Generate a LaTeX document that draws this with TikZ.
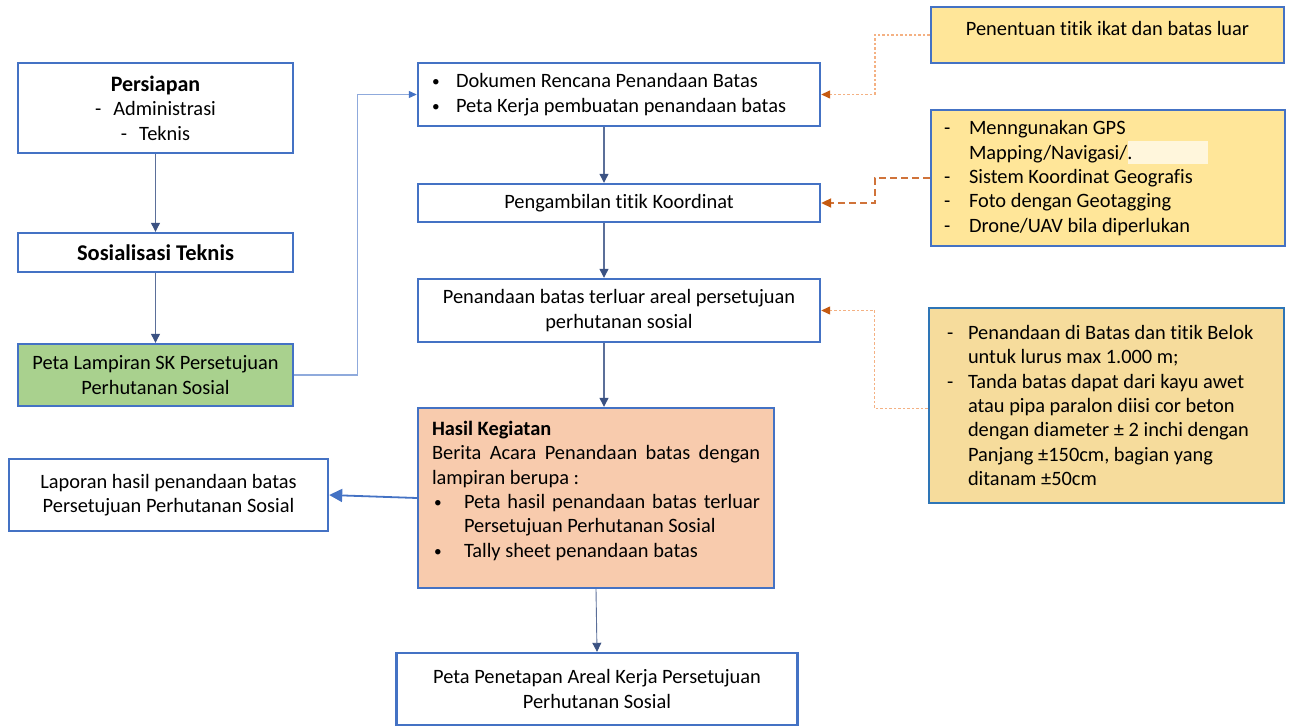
\documentclass[tikz,border=0pt]{standalone}
\usepackage{fontspec}
\setmainfont{Carlito}[Ligatures=CommonOff]
\usetikzlibrary{arrows.meta}
\definecolor{bborder}{HTML}{4472C4}
\definecolor{tborder}{HTML}{2E75B6}
\definecolor{darrow}{HTML}{3B5283}
\definecolor{darrowline}{HTML}{5B6F99}
\definecolor{lblue}{HTML}{8FAADC}
\definecolor{ygold}{HTML}{FFE699}
\definecolor{ylight}{HTML}{FFF6DC}
\definecolor{boxtan}{HTML}{F6DC9C}
\definecolor{gfill}{HTML}{A9D18E}
\definecolor{ofill}{HTML}{F8CBAD}
\definecolor{odark}{HTML}{C55A11}
\definecolor{odash}{HTML}{D0733A}
\definecolor{olight}{HTML}{F4B183}
\newcommand{\smbul}{\raisebox{1pt}{\scalebox{0.75}{\textbullet}}}
\begin{document}
\begin{tikzpicture}[x=1pt,y=-1pt,
  box/.style={draw=bborder, line width=2.4pt, fill=white, inner sep=0pt,
    font=\fontsize{20.4}{24.4}\selectfont, align=center},
  darr/.style={draw=darrowline, line width=1.2pt, -{Triangle[length=9pt,width=9pt,color=darrow]}},
  blarr/.style={draw=lblue, line width=1.1pt, -{Triangle[length=8pt,width=7pt,color=bborder]}},
  laparr/.style={draw=bborder, line width=1.8pt, -{Triangle[length=13pt,width=13pt]}},
  odot/.style={draw=olight, line width=1.4pt, dash pattern=on 2.5pt off 2pt, -{Triangle[length=9pt,width=8pt,color=odark]}},
  odsh/.style={draw=odash, line width=2pt, dash pattern=on 7pt off 4pt, -{Triangle[length=10pt,width=9pt,color=odark]}}
]
\useasboundingbox (0,0) rectangle (1296,727);

% left column
\node[box, minimum width=275pt, minimum height=90pt] (pers) at (155.5,108)
  {{\fontsize{22}{25}\selectfont\bfseries Persiapan}\\
   -\hspace{12pt}Administrasi\\ -\hspace{12pt}Teknis};
\node[box, minimum width=275pt, minimum height=39pt] (sos) at (155.5,252.5)
  {\fontsize{22.5}{25}\selectfont\bfseries Sosialisasi Teknis};
\node[box, fill=gfill, minimum width=275pt, minimum height=62pt] (lamp) at (155.5,375)
  {Peta Lampiran SK Persetujuan\\Perhutanan Sosial};

% middle column
\node[box, minimum width=402pt, minimum height=63pt, text width=374pt, align=flush left, inner xsep=14pt] (dok) at (619,94.5)
  {\makebox[24pt][l]{\smbul}Dokumen Rencana Penandaan Batas\\
   \makebox[24pt][l]{\smbul}Peta Kerja pembuatan penandaan batas};
\node[box, minimum width=402pt, minimum height=38pt] (peng) at (619,203)
  {Pengambilan titik Koordinat};
\node[box, minimum width=402pt, minimum height=63pt] (pen) at (619,310.5)
  {Penandaan batas terluar areal persetujuan\\perhutanan sosial};
\node[box, fill=ofill, minimum width=356pt, minimum height=180pt, align=flush left] (hasil) at (596,498)
  {\parbox[c][180pt][t]{328pt}{\fontsize{20.4}{24.4}\selectfont\vspace*{13pt}%
   {\bfseries Hasil Kegiatan}\\
   \makebox[328pt][s]{Berita Acara Penandaan batas dengan}\\
   lampiran berupa :\\
   \makebox[32pt][l]{\hspace{2pt}\smbul}\makebox[296pt][s]{Peta hasil penandaan batas terluar}\\
   \hspace*{32pt}Persetujuan Perhutanan Sosial\\
   \makebox[32pt][l]{\hspace{2pt}\smbul}Tally sheet penandaan batas}};
\node[box, minimum width=319pt, minimum height=72pt] (lap) at (168.5,495)
  {Laporan hasil penandaan batas\\Persetujuan Perhutanan Sosial};
\node[box, minimum width=401pt, minimum height=72pt] (penet) at (597,689)
  {Peta Penetapan Areal Kerja Persetujuan\\Perhutanan Sosial};

% right column
\node[box, fill=ygold, minimum width=353pt, minimum height=56pt] (pent) at (1107.5,35)
  {\parbox[c][56pt][t]{353pt}{\centering\fontsize{20.4}{24.4}\selectfont\vspace*{14pt}Penentuan titik ikat dan batas luar}};
\fill[ygold] (931,110) rectangle (1285,246);
\fill[ylight] (1128,141) rectangle (1208,164);
\node[box, fill=none, minimum width=354pt, minimum height=136pt, text width=328pt, align=flush left, inner xsep=13pt] (gps) at (1108,178)
  {\makebox[25pt][l]{-}Menngunakan GPS\\
   \hspace*{25pt}Mapping/Navigasi/.\\
   \makebox[25pt][l]{-}Sistem Koordinat Geografis\\
   \makebox[25pt][l]{-}Foto dengan Geotagging\\
   \makebox[25pt][l]{-}Drone/UAV bila diperlukan};
\node[box, draw=tborder, line width=2.8pt, fill=boxtan, minimum width=355pt, minimum height=195pt, text width=319pt, align=flush left, inner xsep=18pt] (tanda) at (1106.5,405.5)
  {\makebox[21pt][l]{-}Penandaan di Batas dan titik Belok\\
   \hspace*{21pt}untuk lurus max 1.000 m;\\
   \makebox[21pt][l]{-}Tanda batas dapat dari kayu awet\\
   \hspace*{21pt}atau pipa paralon diisi cor beton\\
   \hspace*{21pt}dengan diameter ± 2 inchi dengan\\
   \hspace*{21pt}Panjang ±150cm, bagian yang\\
   \hspace*{21pt}ditanam ±50cm};

% connectors
\draw[darr] (pers) -- (sos);
\draw[darr] (sos) -- (lamp);
\draw[blarr] (lamp.east) -- ++(63,0) |- (dok.west);
\draw[darr] ([xshift=-15pt]dok.south) -- ([xshift=-15pt]peng.north);
\draw[darr] ([xshift=-15pt]peng.south) -- ([xshift=-15pt]pen.north);
\draw[darr] ([xshift=-15pt]pen.south) -- ([xshift=-15pt]pen.south |- hasil.north);
\draw[darr, line width=0.9pt] (hasil.south) -- (penet.north);
\draw[laparr] (hasil.west) -- (lap.east);
\draw[odot] (pent.west) -- ++(-55,0) |- (dok.east);
\draw[odsh] (gps.west) -- ++(-55,0) |- (peng.east);
\draw[odot] ([yshift=-3pt]tanda.west) -- ++(-53,0) |- (pen.east);
\end{tikzpicture}
\end{document}
